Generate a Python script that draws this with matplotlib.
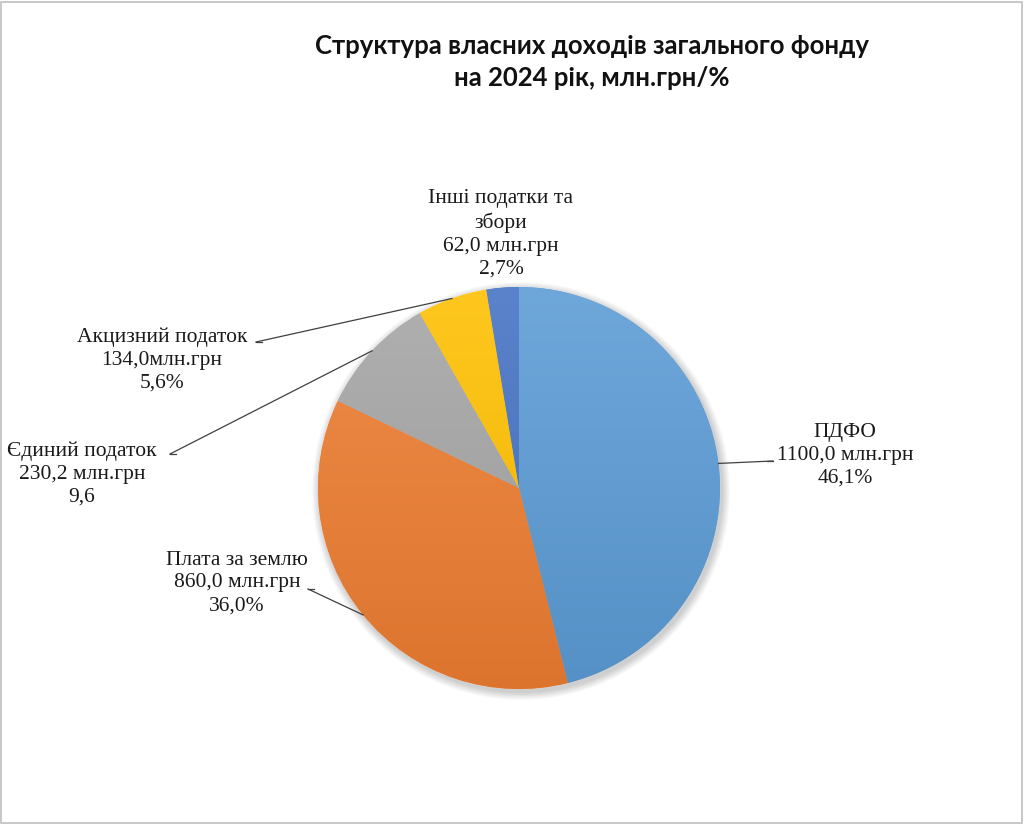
import numpy as np
import matplotlib
matplotlib.use("Agg")
import matplotlib.pyplot as plt
from matplotlib.colors import to_rgb, LinearSegmentedColormap
from matplotlib.patches import Circle, Rectangle

# data
names = ["ПДФО", "Плата за землю", "Єдиний податок", "Акцизний податок",
         "Інші податки та\nзбори"]
values = [1100.0, 860.0, 230.2, 134.0, 62.0]
value_text = ["1100,0 млн.грн", "860,0 млн.грн", "230,2 млн.грн",
              "134,0млн.грн", "62,0 млн.грн"]
pct_text = ["46,1%", "36,0%", "9,6", "5,6%", "2,7%"]
colors = ["#5B9BD5", "#ED7D31", "#A5A5A5", "#FFC000", "#4472C4"]

title = "Структура власних доходів загального фонду\nна 2024 рік, млн.грн/%"

W, H = 1024, 824
cx, cy, R = 519, H - 488, 201

# label centres (pixels from top) and leader line elbows
label_xy = [(845, 455), (237, 583), (82, 474), (162, 360), (501, 234)]
elbow = [(773, 461), (308, 589), (170, 454), (256, 342), None]


def shade(c, f):
    c = np.array(to_rgb(c))
    if f > 0:
        return tuple(c + (1 - c) * f)
    return tuple(c * (1 + f))


fig = plt.figure(figsize=(W / 100, H / 100), dpi=100)
ax = fig.add_axes([0, 0, 1, 1])
ax.set_xlim(0, W)
ax.set_ylim(0, H)
ax.axis("off")

# soft shadow
for i in range(8):
    ax.add_patch(Circle((cx + 2, cy - 3), R + 1 + i, color="k",
                        alpha=0.022, lw=0, zorder=1))
ax.add_patch(Circle((cx, cy), R, color="white", lw=0, zorder=1.5))

wedges, _ = ax.pie(values, colors=colors, startangle=90, counterclock=False,
                   center=(cx, cy), radius=R, frame=True,
                   wedgeprops=dict(linewidth=0))

grad = np.linspace(0, 1, 256).reshape(-1, 1)
for w, c in zip(wedges, colors):
    cmap = LinearSegmentedColormap.from_list("g", [shade(c, -0.07), shade(c, 0.12)])
    im = ax.imshow(grad, cmap=cmap, origin="lower", aspect="auto",
                   extent=(cx - R, cx + R, cy - R, cy + R), zorder=3)
    im.set_clip_path(w)
    w.set_zorder(2)

ax.set_xlim(0, W)
ax.set_ylim(0, H)
ax.set_aspect("auto")

lab_font = dict(family="Liberation Serif", fontsize=15.5, color="#1a1a1a")
for i, w in enumerate(wedges):
    lx, ly = label_xy[i]
    ax.text(lx, H - ly, f"{names[i]}\n{value_text[i]}\n{pct_text[i]}",
            ha="center", va="center", linespacing=1.27, zorder=5, **lab_font)
    if elbow[i] is None:
        continue
    mid = np.deg2rad((w.theta1 + w.theta2) / 2)
    px, py = cx + R * np.cos(mid), cy + R * np.sin(mid)
    ex, ey = elbow[i]
    side = 1 if ex > cx else -1
    ax.plot([ex, px], [H - ey, py], color="#404040", lw=0.9, zorder=4)
    ax.plot([ex, ex - side * 6], [H - ey, H - ey], color="#404040", lw=0.9, zorder=4)

ax.text(592, H - 62, title, ha="center", va="center", family="Lato",
        fontweight="bold", fontsize=18.5, linespacing=1.42, color="#111111")

ax.add_patch(Rectangle((1, 1), W - 3, H - 3, fill=False, ec="#BFBFBF", lw=1.2,
                       zorder=6))

fig.savefig("out.png", dpi=100)
